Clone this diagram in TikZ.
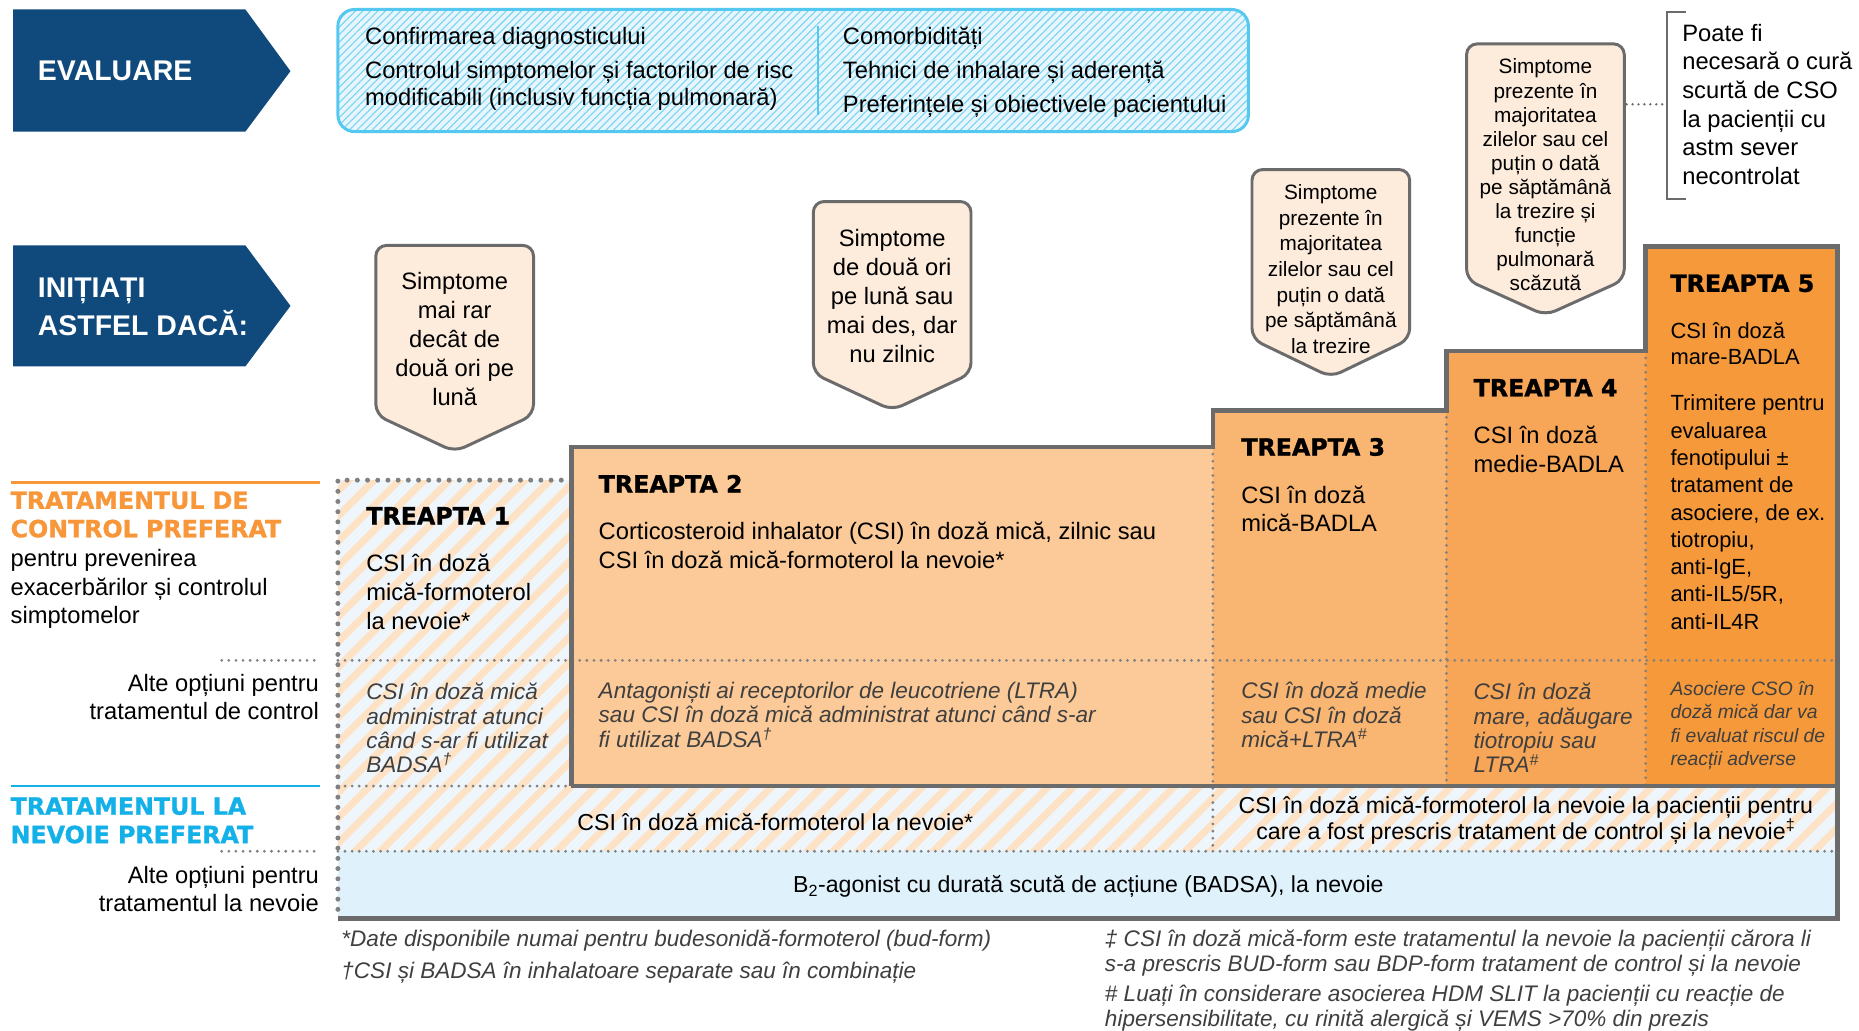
\documentclass[tikz,border=0pt]{standalone}
\usepackage{fontspec}
\setmainfont{Liberation Sans}
\newfontfamily\heavy{DejaVu Sans}[BoldFeatures={FakeBold=1.2}]
\usetikzlibrary{patterns.meta}

\newcommand\fsz[2]{\fontsize{#1}{#2}\selectfont}

\definecolor{navy}{HTML}{104A7C}
\definecolor{cyanline}{HTML}{55C8F0}
\definecolor{cyanfill}{HTML}{E6F6FC}
\definecolor{peach}{HTML}{FDEBDC}
\definecolor{boxgray}{HTML}{6B6B6B}
\definecolor{stepA}{HTML}{FBCA98}
\definecolor{stepB}{HTML}{F9B572}
\definecolor{stepC}{HTML}{F7A557}
\definecolor{stepD}{HTML}{F5993B}
\definecolor{stripeA}{HTML}{FDE2C6}
\definecolor{stripeB}{HTML}{EEF6FC}
\definecolor{rowblue}{HTML}{DFF1FB}
\definecolor{orangetxt}{HTML}{F7973A}
\definecolor{bluetxt}{HTML}{14B1E9}
\definecolor{italgray}{HTML}{3F3F3F}

\begin{document}
\begin{tikzpicture}[x=1pt,y=-1pt,
  every node/.style={inner sep=0pt,outer sep=0pt},
  lt/.style={anchor=west,align=left},
  rt/.style={anchor=east,align=right},
  ct/.style={anchor=center,align=center},
  body/.style={font=\fsz{20}{24.5}},
  ital/.style={font=\itshape\fsz{19}{20.4},text=italgray},
  stephead/.style={lt,font=\heavy\bfseries\fsz{20}{24}},
  sympt/.style={fill=peach,draw=boxgray,line width=2.5pt,rounded corners=9pt,line join=round},
  stripes/.style={pattern={Lines[angle=45,distance=15pt,line width=6pt]},pattern color=stripeA},
  dotline/.style={draw=boxgray!85,line width=2.6pt,line cap=round,dash pattern=on 0pt off 6pt},
  bigdots/.style={draw=boxgray!85,line width=4.2pt,line cap=round,dash pattern=on 0pt off 8.6pt},
  stepborder/.style={draw=boxgray,line width=4pt,line join=miter},
]
\useasboundingbox (0,0) rectangle (1568,869);
\fill[white] (0,0) rectangle (1568,869);

% ---------- left arrows ----------
\fill[navy] (11,8) -- (207,8) -- (245,60) -- (207,111) -- (11,111) -- cycle;
\node[lt,text=white,font=\bfseries\fsz{24}{29}] (evaluare) at (32,60) {EVALUARE};
\fill[navy] (11,207) -- (207,207) -- (245,258) -- (207,309) -- (11,309) -- cycle;
\node[lt,text=white,font=\bfseries\fsz{24}{32}] (initiati) at (32,259) {INIȚIAȚI\\ASTFEL DACĂ:};

% ---------- assessment box ----------
\path[fill=cyanfill,rounded corners=14pt] (285,8) rectangle (1053,111);
\path[pattern={Lines[angle=45,distance=4.5pt,line width=0.9pt]},pattern color=cyanline!80,rounded corners=14pt] (285,8) rectangle (1053,111);
\draw[cyanline,line width=2.5pt,rounded corners=14pt] (285,8) rectangle (1053,111);
\draw[cyanline,line width=2pt] (690,22) -- (690,97);
\node[lt,body] (ev1) at (308,32) {Confirmarea diagnosticului};
\node[lt,font=\fsz{20}{23}] (ev2) at (308,72.5) {Controlul simptomelor și factorilor de risc\\modificabili (inclusiv funcția pulmonară)};
\node[lt,font=\fsz{20}{29}] (ev3) at (711,61) {Comorbidități\\Tehnici de inhalare și aderență\\Preferințele și obiectivele pacientului};

% ---------- symptom boxes ----------
\draw[sympt] (317,350) -- (317,207) -- (450,207) -- (450,350) -- (383.5,381) -- cycle;
\node[ct,body] (s1) at (383.5,286) {Simptome\\mai rar\\decât de\\două ori pe\\lună};

\draw[sympt] (686,315) -- (686,170) -- (819,170) -- (819,315) -- (752.5,346) -- cycle;
\node[ct,body] (s2) at (752.5,250) {Simptome\\de două ori\\pe lună sau\\mai des, dar\\nu zilnic};

\draw[sympt] (1056,286) -- (1056,143) -- (1189,143) -- (1189,286) -- (1122.5,318) -- cycle;
\node[ct,font=\fsz{17.5}{21.6}] (s3) at (1122.5,227) {Simptome\\prezente în\\majoritatea\\zilelor sau cel\\puțin o dată\\pe săptămână\\la trezire};

\draw[sympt] (1237,236) -- (1237,37) -- (1370,37) -- (1370,236) -- (1303.5,266) -- cycle;
\node[ct,font=\fsz{17.5}{20.3}] (s4) at (1303.5,147.5) {Simptome\\prezente în\\majoritatea\\zilelor sau cel\\puțin o dată\\pe săptămână\\la trezire și\\funcție\\pulmonară\\scăzută};

% note on oral corticosteroids, joined to the last symptom box
\coordinate (s4r) at (1372,88);
\coordinate (brk) at (1404,88);
\draw[boxgray,line width=2pt] (1422,10) -- (1406,10) -- (1406,168) -- (1422,168);
\draw[draw=boxgray,line width=2.2pt,line cap=round,dash pattern=on 0pt off 5pt] (s4r) -- (brk);
\node[lt,font=\fsz{20}{24.2}] (cso) at (1419,88) {Poate fi\\necesară o cură\\scurtă de CSO\\la pacienții cu\\astm sever\\necontrolat};

% ---------- staircase fills ----------
\fill[stripeB] (285,405) rectangle (482,663);
\fill[stripes] (285,405) rectangle (482,663);
\fill[stepA] (482,377) rectangle (1023,663);
\fill[stepB] (1023,346) rectangle (1220,663);
\fill[stepC] (1220,296) rectangle (1388,663);
\fill[stepD] (1388,208) rectangle (1550,663);
\fill[stripeB] (285,663) rectangle (1550,718);
\fill[stripes] (285,663) rectangle (1550,718);
\fill[rowblue] (285,718) rectangle (1550,775);

% ---------- dotted separators ----------
\draw[dotline] (285,557) -- (1550,557);
\draw[dotline] (285,663) -- (482,663);
\draw[dotline] (285,718) -- (1550,718);
\draw[dotline] (1023,377) -- (1023,718);
\draw[dotline] (1220,346) -- (1220,663);
\draw[dotline] (1388,296) -- (1388,663);
\draw[bigdots] (482,405) -- (285,405) -- (285,775);
\draw[dotline] (187,557) -- (270,557);
\draw[dotline] (187,718) -- (270,718);

% ---------- solid outline ----------
\draw[stepborder] (482,663) -- (482,377) -- (1023,377) -- (1023,346) -- (1220,346) -- (1220,296) -- (1388,296) -- (1388,208) -- (1550,208) -- (1550,775) -- (285,775);
\draw[stepborder] (482,663) -- (1550,663);

% ---------- row labels ----------
\draw[orangetxt,line width=2pt] (9,407) -- (270,407);
\node[lt,text=orangetxt,font=\heavy\bfseries\fsz{20}{24}] (ctrlhead) at (9,434) {TRATAMENTUL DE\\CONTROL PREFERAT};
\node[lt,body,font=\fsz{20}{24}] (ctrlsub) at (9,497) {pentru prevenirea\\exacerbărilor și controlul\\simptomelor};
\node[rt,font=\fsz{20}{24}] (ctrlalt) at (269,588) {Alte opțiuni pentru\\tratamentul de control};
\draw[bluetxt,line width=2pt] (9,663) -- (270,663);
\node[lt,text=bluetxt,font=\heavy\bfseries\fsz{20}{24}] (relhead) at (9,692) {TRATAMENTUL LA\\NEVOIE PREFERAT};
\node[rt,font=\fsz{20}{24}] (relalt) at (269,750) {Alte opțiuni pentru\\tratamentul la nevoie};

% ---------- step 1 ----------
\node[stephead] (t1) at (309,435) {TREAPTA 1};
\node[lt,body] (t1a) at (309,499) {CSI în doză\\mică-formoterol\\la nevoie*};
\node[lt,ital] (t1b) at (309,614) {CSI în doză mică\\administrat atunci\\când s-ar fi utilizat\\BADSA\textsuperscript{†}};

% ---------- step 2 ----------
\node[stephead] (t2) at (505,408) {TREAPTA 2};
\node[lt,font=\fsz{20}{24}] (t2a) at (505,460) {Corticosteroid inhalator (CSI) în doză mică, zilnic sau\\CSI în doză mică-formoterol la nevoie*};
\node[lt,ital] (t2b) at (505,603) {Antagoniști ai receptorilor de leucotriene (LTRA)\\sau CSI în doză mică administrat atunci când s-ar\\fi utilizat BADSA\textsuperscript{†}};

% ---------- step 3 ----------
\node[stephead] (t3) at (1047,377) {TREAPTA 3};
\node[lt,font=\fsz{20}{24}] (t3a) at (1047,429) {CSI în doză\\mică-BADLA};
\node[lt,ital] (t3b) at (1047,603) {CSI în doză medie\\sau CSI în doză\\mică+LTRA\textsuperscript{\#}};

% ---------- step 4 ----------
\node[stephead] (t4) at (1243,327) {TREAPTA 4};
\node[lt,font=\fsz{20}{24}] (t4a) at (1243,379) {CSI în doză\\medie-BADLA};
\node[lt,ital] (t4b) at (1243,614) {CSI în doză\\mare, adăugare\\tiotropiu sau\\LTRA\textsuperscript{\#}};

% ---------- step 5 ----------
\node[stephead] (t5) at (1409,239) {TREAPTA 5};
\node[lt,font=\fsz{18.5}{22}] (t5a) at (1409,290) {CSI în doză\\mare-BADLA};
\node[lt,font=\fsz{18.5}{23}] (t5b) at (1409,432) {Trimitere pentru\\evaluarea\\fenotipului ±\\tratament de\\asociere, de ex.\\tiotropiu,\\anti-IgE,\\anti-IL5/5R,\\anti-IL4R};
\node[lt,font=\itshape\fsz{16.3}{19.7},text=italgray] (t5c) at (1409,612) {Asociere CSO în\\doză mică dar va\\fi evaluat riscul de\\reacții adverse};

% ---------- reliever rows ----------
\node[ct,font=\fsz{19.5}{20}] (rel1) at (654,693) {CSI în doză mică-formoterol la nevoie*};
\node[ct,font=\fsz{19.5}{20.5}] (rel2) at (1287,692) {CSI în doză mică-formoterol la nevoie la pacienții pentru\\care a fost prescris tratament de control și la nevoie\textsuperscript{‡}};
\node[ct,font=\fsz{19.5}{20}] (rel3) at (918,748) {B\textsubscript{2}-agonist cu durată scută de acțiune (BADSA), la nevoie};

% ---------- footnotes ----------
\node[lt,ital,font=\itshape\fsz{19}{27}] (fn1) at (288,807) {*Date disponibile numai pentru budesonidă-formoterol (bud-form)\\†CSI și BADSA în inhalatoare separate sau în combinație};
\node[lt,ital,font=\itshape\fsz{19}{21}] (fn2) at (932,804) {‡ CSI în doză mică-form este tratamentul la nevoie la pacienții cărora li\\s-a prescris BUD-form sau BDP-form tratament de control și la nevoie};
\node[lt,ital,font=\itshape\fsz{19}{21}] (fn3) at (932,850.5) {\# Luați în considerare asocierea HDM SLIT la pacienții cu reacție de\\hipersensibilitate, cu rinită alergică și VEMS >70\% din prezis};
\end{tikzpicture}
\end{document}
